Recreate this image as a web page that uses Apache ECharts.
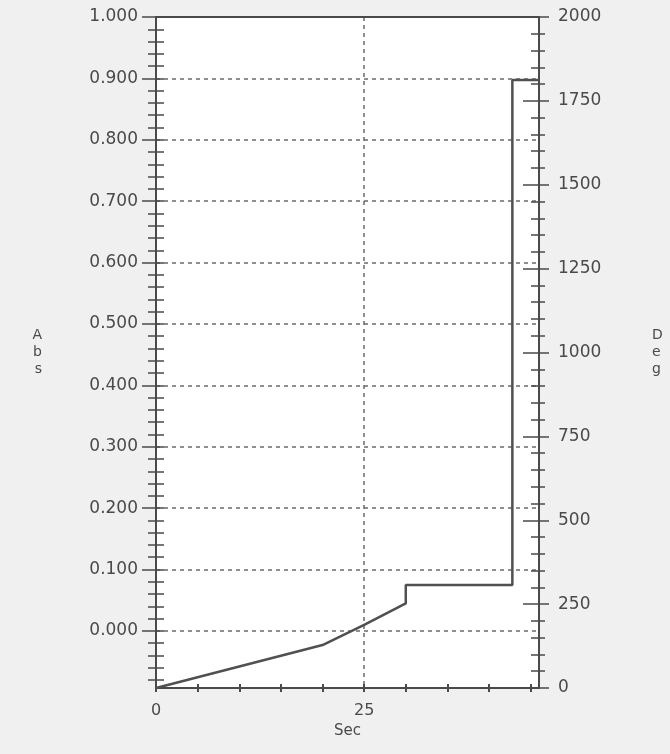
<!DOCTYPE html>
<html>
<head>
<meta charset="utf-8">
<script src="https://cdn.jsdelivr.net/npm/echarts@6/dist/echarts.min.js"></script>
<style>
  html, body { margin: 0; padding: 0; background: #f0f0f0; }
  #chart { width: 670px; height: 754px; }
</style>
</head>
<body>
<div id="chart"></div>
<script>
// time (Sec) and the trace read against the right axis (Deg)
const timeSec = [0, 5, 10, 15, 20, 25, 30, 30, 42.8, 42.8, 46];
const degValues = [0, 32, 64, 96, 128, 188, 252, 307, 307, 1812, 1812];

// tick labels
const secLabels = [0, 25];
const secTicks = [0, 5, 10, 15, 20, 25, 30, 35, 40, 45];
const absLabels = [0, 0.1, 0.2, 0.3, 0.4, 0.5, 0.6, 0.7, 0.8, 0.9, 1.0];
const absMinorTicks = [];
for (let i = -4; i <= 50; i++) absMinorTicks.push(+(i * 0.02).toFixed(2));

const absMin = -0.093, absMax = 1.0;
const degMin = 0, degMax = 2000, degStep = 250;
const secMin = 0, secMax = 46;

const ink = '#4a4a4a';
const font = 'DejaVu Sans';
const gridDash = { color: '#6a6a6a', width: 1.5, type: [4, 4] };
const tickStyle = { color: ink, width: 1.5 };

const chart = echarts.init(document.getElementById('chart'));

const lineData = timeSec.map((t, i) => [t, degValues[i]]);

chart.setOption({
    backgroundColor: '#f0f0f0',
    animation: false,
    grid: {
        left: 156, right: 131, top: 17, bottom: 66,
        show: true, backgroundColor: '#ffffff', borderWidth: 0
    },
    xAxis: [
        {
            type: 'value', position: 'bottom', min: secMin, max: secMax,
            name: 'Sec', nameLocation: 'middle', nameGap: 36,
            nameTextStyle: { fontFamily: font, fontSize: 15, color: ink },
            axisLine: { show: true, onZero: false, lineStyle: { color: ink, width: 2 } },
            axisTick: { show: true, customValues: secTicks, length: 4, lineStyle: { color: ink, width: 2 } },
            axisLabel: { customValues: secLabels, margin: 15, fontFamily: font, fontSize: 16, color: ink },
            splitLine: { show: false }
        },
        {
            // top border + vertical grid line at 25
            type: 'value', position: 'top', min: secMin, max: secMax,
            axisLine: { show: true, onZero: false, lineStyle: { color: ink, width: 2 } },
            axisTick: { show: false, customValues: [25] },
            axisLabel: { show: false },
            splitLine: { show: true, lineStyle: gridDash }
        },
        {
            // inner half of the bottom ticks
            type: 'value', position: 'bottom', offset: 0, min: secMin, max: secMax,
            axisLine: { show: false, onZero: false },
            axisTick: { show: true, inside: true, customValues: secTicks, length: 4, lineStyle: { color: ink, width: 2 } },
            axisLabel: { show: false },
            splitLine: { show: false }
        }
    ],
    yAxis: [
        {
            type: 'value', position: 'left', min: absMin, max: absMax,
            name: 'A\nb\ns', nameLocation: 'middle', nameRotate: 0, nameGap: 114,
            nameTextStyle: { fontFamily: font, fontSize: 14, color: ink, lineHeight: 17 },
            axisLine: { show: true, onZero: false, lineStyle: { color: ink, width: 2 } },
            axisTick: { show: true, customValues: absLabels, length: 14, lineStyle: tickStyle },
            axisLabel: {
                customValues: absLabels, margin: 18, fontFamily: font, fontSize: 17, color: ink,
                formatter: v => v.toFixed(3)
            },
            splitLine: { show: true, lineStyle: gridDash }
        },
        {
            type: 'value', position: 'right', min: degMin, max: degMax, interval: degStep,
            name: 'D\ne\ng', nameLocation: 'middle', nameRotate: 0, nameGap: 113,
            nameTextStyle: { fontFamily: font, fontSize: 14, color: ink, lineHeight: 17 },
            axisLine: { show: true, onZero: false, lineStyle: { color: ink, width: 2 } },
            axisTick: { show: true, length: 10, lineStyle: tickStyle },
            minorTick: { show: true, splitNumber: 5, length: 6, lineStyle: tickStyle },
            axisLabel: { margin: 19, fontFamily: font, fontSize: 17, color: ink, formatter: v => String(v) },
            splitLine: { show: false }
        },
        {
            // inner side of the right ticks
            type: 'value', position: 'right', offset: 0, min: degMin, max: degMax, interval: degStep,
            axisLine: { show: false, onZero: false },
            axisTick: { show: true, inside: true, length: 16, lineStyle: tickStyle },
            minorTick: { show: true, splitNumber: 5, length: 8, lineStyle: tickStyle },
            axisLabel: { show: false },
            splitLine: { show: false }
        },
        {
            // left minor ticks, outer side
            type: 'value', position: 'left', offset: 0, min: absMin, max: absMax,
            axisLine: { show: false, onZero: false },
            axisTick: { show: true, customValues: absMinorTicks, length: 8, lineStyle: tickStyle },
            axisLabel: { show: false },
            splitLine: { show: false }
        },
        {
            // left ticks, inner side
            type: 'value', position: 'left', offset: 0, min: absMin, max: absMax,
            axisLine: { show: false, onZero: false },
            axisTick: { show: true, inside: true, customValues: absMinorTicks, length: 8, lineStyle: tickStyle },
            axisLabel: { show: false },
            splitLine: { show: false }
        }
    ],
    series: [
        {
            type: 'line',
            xAxisIndex: 0,
            yAxisIndex: 1,
            data: lineData,
            showSymbol: false,
            lineStyle: { color: '#505050', width: 2.5 },
            z: 5
        }
    ]
});
window.addEventListener('resize', chart.resize);
</script>
</body>
</html>
